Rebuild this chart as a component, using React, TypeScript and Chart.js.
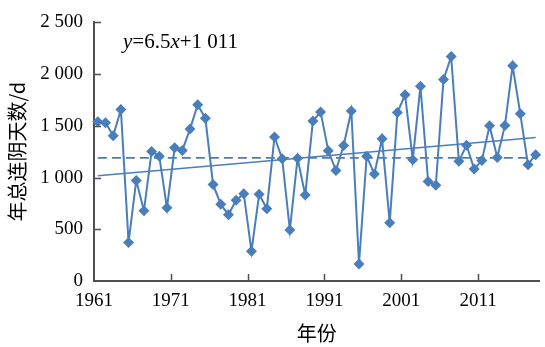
import React, { useEffect, useRef } from "react";
import { Chart, registerables } from "chart.js";

Chart.register(...registerables);

const years: number[] = Array.from({ length: 58 }, (_, i) => 1961 + i);
const days: number[] = [
  1539, 1530, 1405, 1657, 373, 972, 679, 1252, 1205, 707,
  1288, 1262, 1469, 1705, 1573, 934, 743, 640, 781, 844,
  287, 838, 698, 1393, 1183, 494, 1186, 832, 1547, 1635,
  1259, 1068, 1310, 1644, 165, 1207, 1035, 1374, 564, 1628,
  1800, 1173, 1883, 963, 925, 1947, 2170, 1157, 1313, 1083,
  1166, 1501, 1195, 1504, 2081, 1616, 1125, 1221,
];
const trendSlope = 6.5;
const trendIntercept = 1011;
const meanLine = 1190;
const xTickLabels: number[] = [1961, 1971, 1981, 1991, 2001, 2011];
const yTicks: number[] = [0, 500, 1000, 1500, 2000, 2500];
const xTitle = "年份";
const yTitle = "年总连阴天数/d";

const BLUE = "#4a7ebb";
const AXIS = "#505050";
const SERIF = "'Liberation Serif', 'Times New Roman', 'Noto Sans CJK SC', serif";
const CJK = "'Noto Sans CJK SC', 'Liberation Serif', serif";

function fmt(v: number): string {
  if (v >= 1000) {
    return `${Math.floor(v / 1000)} ${String(v % 1000).padStart(3, "0")}`;
  }
  return String(v);
}

const extrasPlugin = {
  id: "extras",
  afterDraw(chart: any) {
    const { ctx, chartArea, scales } = chart;
    const xs = scales.x;
    const ys = scales.y;
    ctx.save();
    ctx.strokeStyle = AXIS;
    ctx.lineWidth = 1.5;
    ctx.beginPath();
    yTicks.forEach((v) => {
      if (v === 0) return;
      const py = Math.round(ys.getPixelForValue(v)) + 0.5;
      ctx.moveTo(chartArea.left, py);
      ctx.lineTo(chartArea.left + 7, py);
    });
    xTickLabels.forEach((lab) => {
      if (lab === xTickLabels[0]) return;
      const px = Math.round(xs.getPixelForValue(lab - 0.5)) + 0.5;
      ctx.moveTo(px, chartArea.bottom);
      ctx.lineTo(px, chartArea.bottom - 7);
    });
    ctx.stroke();

    // equation
    const parts: [string, boolean][] = [
      ["y", true],
      ["=6.5", false],
      ["x", true],
      ["+1 011", false],
    ];
    let x = 123;
    const y = 48;
    ctx.fillStyle = "#000";
    ctx.textBaseline = "alphabetic";
    ctx.textAlign = "left";
    parts.forEach(([t, it]) => {
      ctx.font = `${it ? "italic " : ""}21px ${SERIF}`;
      ctx.fillText(t, x, y);
      x += ctx.measureText(t).width;
    });
    ctx.restore();
  },
};

export default function App() {
  const ref = useRef<HTMLCanvasElement | null>(null);

  useEffect(() => {
    document.body.style.margin = "0";
    if (!ref.current) return;
    const first = years[0];
    const last = years[years.length - 1];
    const chart = new Chart(ref.current, {
      type: "line",
      data: {
        datasets: [
          {
            label: "年总连阴天数",
            data: years.map((yr, i) => ({ x: yr, y: days[i] })),
            borderColor: BLUE,
            backgroundColor: BLUE,
            borderWidth: 2,
            pointStyle: "rectRot",
            pointRadius: 5.5,
            pointBorderWidth: 0,
            tension: 0,
            clip: false as any,
            order: 0,
          },
          {
            label: "趋势线",
            data: [
              { x: first, y: trendSlope * 1 + trendIntercept },
              { x: last, y: trendSlope * years.length + trendIntercept },
            ],
            borderColor: BLUE,
            borderWidth: 1.6,
            pointRadius: 0,
            order: 1,
          },
          {
            label: "平均值",
            data: [
              { x: first, y: meanLine },
              { x: last, y: meanLine },
            ],
            borderColor: BLUE,
            borderWidth: 1.6,
            borderDash: [9, 5],
            pointRadius: 0,
            order: 2,
          },
        ],
      },
      options: {
        responsive: false,
        animation: false,
        layout: { padding: { top: 20, right: 0, left: 0, bottom: 0 } },
        plugins: {
          legend: { display: false },
          tooltip: { enabled: false },
        },
        scales: {
          x: {
            type: "linear",
            min: first - 0.5,
            max: last + 0.5,
            afterBuildTicks: (scale: any) => {
              scale.ticks = xTickLabels.map((l) => ({ value: l - 0.5 }));
            },
            afterFit: (scale: any) => {
              scale.height = 66;
            },
            grid: { display: false, drawTicks: false },
            border: { display: true, color: AXIS, width: 2 },
            ticks: {
              autoSkip: false,
              maxRotation: 0,
              padding: 9,
              color: "#000",
              font: { size: 19, family: SERIF },
              callback: (v: any) => String(Math.round(Number(v) + 0.5)),
            },
            title: {
              display: true,
              text: xTitle,
              color: "#000",
              font: { size: 20, family: CJK },
              padding: { top: 0, bottom: 2 },
            },
          },
          y: {
            min: 0,
            max: 2500,
            afterBuildTicks: (scale: any) => {
              scale.ticks = yTicks.map((v) => ({ value: v }));
            },
            afterFit: (scale: any) => {
              scale.width = 94;
            },
            grid: { display: false, drawTicks: false },
            border: { display: true, color: AXIS, width: 2 },
            ticks: {
              padding: 11,
              color: "#000",
              font: { size: 19, family: SERIF },
              callback: (v: any) => fmt(Number(v)),
            },
            title: {
              display: true,
              text: yTitle,
              color: "#000",
              font: { size: 20, family: CJK },
              padding: { top: 5, bottom: 0 },
            },
          },
        },
      },
      plugins: [extrasPlugin],
    });
    return () => chart.destroy();
  }, []);

  return (
    <div style={{ width: 545, height: 347, background: "#fff" }}>
      <canvas ref={ref} width={545} height={347} style={{ display: "block" }} />
    </div>
  );
}
